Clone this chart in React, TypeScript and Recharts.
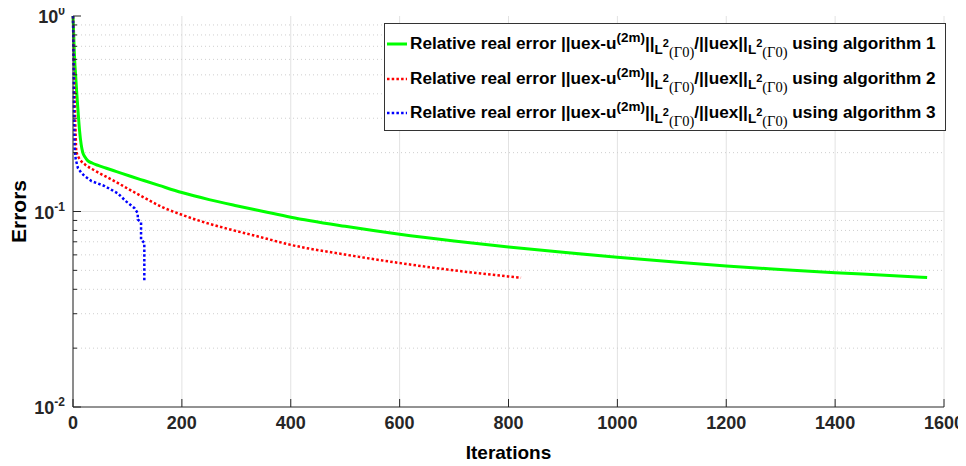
import React from 'react';
import { LineChart, Line, XAxis, YAxis, CartesianGrid, ReferenceLine, Legend } from 'recharts';

// ---- data ----
const xTicks = [0, 200, 400, 600, 800, 1000, 1200, 1400, 1600];
const yDecades = [0.01, 0.1, 1];
const yMinor = [0.02, 0.03, 0.04, 0.05, 0.06, 0.07, 0.08, 0.09, 0.2, 0.3, 0.4, 0.5, 0.6, 0.7, 0.8, 0.9];
const yTicks = [...yDecades, ...yMinor].sort((a, b) => a - b);

const algo1Iter = [0, 1, 2, 3, 5, 7, 9, 12, 15, 18, 22, 27, 35, 46, 60, 80, 107, 130, 158, 200, 250, 300, 350, 400, 500, 600, 700, 800, 900, 1000, 1100, 1200, 1300, 1400, 1500, 1569];
const algo1Err = [1.0, 0.85, 0.7, 0.6, 0.49, 0.4, 0.334, 0.26, 0.22, 0.2, 0.19, 0.182, 0.177, 0.172, 0.167, 0.16, 0.151, 0.144, 0.136, 0.125, 0.115, 0.107, 0.1, 0.0935, 0.084, 0.0765, 0.0707, 0.0659, 0.0618, 0.0583, 0.0553, 0.0526, 0.0505, 0.0486, 0.0471, 0.0459];

const algo2Iter = [0, 1, 2, 3, 4, 5, 6, 10, 15, 22, 40, 72, 107, 130, 165, 200, 233, 281, 340, 400, 500, 600, 700, 800, 823];
const algo2Err = [1.0, 0.75, 0.55, 0.4, 0.3, 0.24, 0.205, 0.19, 0.181, 0.174, 0.162, 0.145, 0.128, 0.118, 0.105, 0.0962, 0.0895, 0.082, 0.0745, 0.0675, 0.0602, 0.0545, 0.05, 0.0465, 0.0458];

const algo3Iter = [0, 1, 2, 3, 5, 9, 15, 21, 34, 58, 82, 97, 113, 119, 119, 125, 125, 131, 131];
const algo3Err = [1.0, 0.6, 0.3, 0.21, 0.185, 0.167, 0.158, 0.152, 0.143, 0.135, 0.124, 0.113, 0.104, 0.098, 0.091, 0.088, 0.072, 0.069, 0.044];

const seriesNames = ['algorithm 1', 'algorithm 2', 'algorithm 3'];

const zip = (xs: number[], ys: number[]) => xs.map((x, i) => ({ x, y: ys[i] }));
const data1 = zip(algo1Iter, algo1Err);
const data2 = zip(algo2Iter, algo2Err);
const data3 = zip(algo3Iter, algo3Err);

// ---- styles ----
const FONT = '"Liberation Sans", Arial, Helvetica, sans-serif';
const SERIF = '"Liberation Serif", "Times New Roman", serif';
const AXIS = '#262626';
const GREEN = '#00ff00';
const RED = '#ff0000';
const BLUE = '#0000ff';
const DOT = '2.5 2.2';

const isDecade = (v: number) => yDecades.some((d) => Math.abs(d - v) < 1e-9);

const LeftTick = (props: any) => {
  const { x, y, payload } = props;
  const v = payload.value;
  const major = isDecade(v);
  const exp = Math.round(Math.log10(v));
  return (
    <g>
      <line x1={x} x2={x + (major ? 8 : 4)} y1={y} y2={y} stroke={AXIS} strokeWidth={1} />
      {major && (
        <text x={x - 8} y={y + 7} textAnchor="end" fontFamily={FONT} fontWeight="bold" fontSize={18} fill={AXIS}>
          10<tspan dy={-8} fontSize={12}>{exp}</tspan>
        </text>
      )}
    </g>
  );
};

const RightTick = (props: any) => {
  const { x, y, payload } = props;
  const major = isDecade(payload.value);
  return <line x1={x} x2={x - (major ? 8 : 4)} y1={y} y2={y} stroke={AXIS} strokeWidth={1} />;
};

const BottomTick = (props: any) => {
  const { x, y, payload } = props;
  return (
    <g>
      <line x1={x} x2={x} y1={y} y2={y - 8} stroke={AXIS} strokeWidth={1} />
      <text x={x} y={y + 22} textAnchor="middle" fontFamily={FONT} fontWeight="bold" fontSize={18} fill={AXIS}>
        {payload.value}
      </text>
    </g>
  );
};

const TopTick = (props: any) => {
  const { x, y } = props;
  return <line x1={x} x2={x} y1={y} y2={y + 8} stroke={AXIS} strokeWidth={1} />;
};

const NormSub = () => (
  <span>
    <span style={{ fontSize: 13.5, position: 'relative', top: 5 }}>L</span>
    <span style={{ fontSize: 11, position: 'relative', top: -2 }}>2</span>
    <span style={{ fontSize: 14.5, fontFamily: SERIF, fontWeight: 'normal', position: 'relative', top: 8 }}>(Γ0)</span>
  </span>
);

const Formula = ({ n }: { n: string }) => (
  <span style={{ whiteSpace: 'nowrap' }}>
    Relative real error ||uex-u
    <span style={{ fontSize: 13.5, position: 'relative', top: -7 }}>(2m)</span>
    ||<NormSub />/||uex||<NormSub /> using {n}
  </span>
);

const LegendSample = ({ color, dashed }: { color: string; dashed: boolean }) => (
  <svg width={22} height={6} style={{ display: 'inline-block', verticalAlign: 'middle', marginRight: 2 }}>
    <line x1={1} x2={21} y1={3} y2={3} stroke={color} strokeWidth={dashed ? 2.5 : 3} strokeDasharray={dashed ? DOT : undefined} />
  </svg>
);

const renderLegend = () => {
  const colors = [GREEN, RED, BLUE];
  return (
    <div
      style={{
        width: 562,
        height: 108,
        border: '1px solid #333',
        background: '#fff',
        boxSizing: 'border-box',
        fontFamily: FONT,
        fontWeight: 'bold',
        fontSize: 17.2,
        color: '#000',
        paddingLeft: 1,
        paddingTop: 9,
      }}
    >
      {seriesNames.map((n, i) => (
        <div key={n} style={{ height: 34.5, lineHeight: '20px' }}>
          <LegendSample color={colors[i]} dashed={i > 0} />
          <Formula n={n} />
        </div>
      ))}
    </div>
  );
};

export default function App() {
  return (
    <div style={{ width: 966, height: 466, background: '#fff', marginTop: -8, marginLeft: -8 }}>
      <LineChart width={966} height={466} margin={{ top: 16, right: 22, bottom: 7, left: 0 }}>
        <CartesianGrid horizontal={false} stroke="#e2e2e2" strokeWidth={1} />
        {yMinor.map((v) => (
          <ReferenceLine key={'m' + v} y={v} stroke="#cfcfcf" strokeDasharray="1 3" strokeWidth={1} />
        ))}
        <ReferenceLine y={0.1} stroke="#e2e2e2" strokeWidth={1} />
        <XAxis
          type="number"
          dataKey="x"
          domain={[0, 1600]}
          ticks={xTicks}
          interval={0}
          height={52}
          tickSize={0}
          tickMargin={0}
          tickLine={false}
          axisLine={{ stroke: AXIS }}
          tick={<BottomTick />}
          label={(p: any) => {
            const vb = p.viewBox || {};
            return (
              <text x={vb.x + vb.width / 2} y={vb.y + 52} textAnchor="middle" fontFamily={FONT} fontWeight="bold" fontSize={19} fill="#000">
                Iterations
              </text>
            );
          }}
        />
        <XAxis
          xAxisId="top"
          orientation="top"
          type="number"
          dataKey="x"
          domain={[0, 1600]}
          ticks={xTicks}
          interval={0}
          height={0}
          tickSize={0}
          tickMargin={0}
          tickLine={false}
          axisLine={{ stroke: AXIS }}
          tick={<TopTick />}
        />
        <YAxis
          type="number"
          scale="log"
          domain={[0.01, 1]}
          allowDataOverflow
          ticks={yTicks}
          interval={0}
          width={73}
          tickSize={0}
          tickMargin={0}
          tickLine={false}
          axisLine={{ stroke: AXIS }}
          tick={<LeftTick />}
          label={(p: any) => {
            const vb = p.viewBox || {};
            const cx = 18;
            const cy = vb.y + vb.height / 2;
            return (
              <text x={cx} y={cy} transform={`rotate(-90 ${cx} ${cy})`} textAnchor="middle" dominantBaseline="central" fontFamily={FONT} fontWeight="bold" fontSize={21} fill="#000">
                Errors
              </text>
            );
          }}
        />
        <YAxis
          yAxisId="right"
          orientation="right"
          type="number"
          scale="log"
          domain={[0.01, 1]}
          allowDataOverflow
          ticks={yTicks}
          interval={0}
          width={0}
          tickSize={0}
          tickMargin={0}
          tickLine={false}
          axisLine={{ stroke: AXIS }}
          tick={<RightTick />}
        />
        <Line data={data1} dataKey="y" name={seriesNames[0]} type="monotone" stroke={GREEN} strokeWidth={3} dot={false} isAnimationActive={false} />
        <Line data={data2} dataKey="y" name={seriesNames[1]} type="monotone" stroke={RED} strokeWidth={2.5} strokeDasharray={DOT} dot={false} isAnimationActive={false} />
        <Line data={data3} dataKey="y" name={seriesNames[2]} type="linear" stroke={BLUE} strokeWidth={2.5} strokeDasharray={DOT} dot={false} isAnimationActive={false} />
        <Legend
          layout="vertical"
          align="center"
          verticalAlign="middle"
          content={renderLegend}
          wrapperStyle={{ position: 'absolute', left: 384, top: 23, width: 562, height: 108 }}
        />
      </LineChart>
    </div>
  );
}
